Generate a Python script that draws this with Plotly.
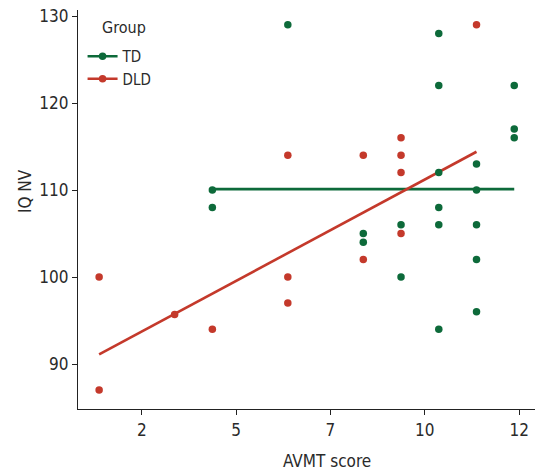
import plotly.graph_objects as go

# ---- data ----
td_x = [4, 4, 6, 8, 8, 9, 9, 10, 10, 10, 10, 10, 10, 11, 11, 11, 11, 11, 12, 12, 12]
td_y = [110, 108, 129, 105, 104, 106, 100, 128, 122, 112, 108, 106, 94, 113, 110, 106, 102, 96, 122, 117, 116]

dld_x = [1, 1, 3, 4, 6, 6, 6, 8, 8, 9, 9, 9, 9, 11]
dld_y = [100, 87, 95.7, 94, 114, 100, 97, 114, 102, 116, 114, 112, 105, 129]

# fitted trend lines (endpoints)
td_fit_x = [4, 12]
td_fit_y = [110.1, 110.1]
dld_fit_x = [1, 11]
dld_fit_y = [91.1, 114.4]

x_tickvals = [2.13, 4.63, 7.13, 9.63, 12.13]
x_ticktext = ["2", "5", "7", "10", "12"]
y_tickvals = [90, 100, 110, 120, 130]

GREEN = "#0d6a3a"
RED = "#c4392b"
FONT = "Liberation Sans Narrow, DejaVu Sans Condensed, Roboto Condensed, Liberation Sans, Arial, sans-serif"
TXT = "#2a2a2a"

fig = go.Figure()

# trend lines
fig.add_trace(go.Scatter(x=td_fit_x, y=td_fit_y, mode="lines",
                         line=dict(color=GREEN, width=2.6), showlegend=False, hoverinfo="skip"))
fig.add_trace(go.Scatter(x=dld_fit_x, y=dld_fit_y, mode="lines",
                         line=dict(color=RED, width=2.6), showlegend=False, hoverinfo="skip"))
# points
fig.add_trace(go.Scatter(x=td_x, y=td_y, mode="markers",
                         marker=dict(color=GREEN, size=7.5), showlegend=False))
fig.add_trace(go.Scatter(x=dld_x, y=dld_y, mode="markers",
                         marker=dict(color=RED, size=7.5), showlegend=False))
# legend entries
fig.add_trace(go.Scatter(x=[None], y=[None], mode="lines+markers", name="TD",
                         line=dict(color=GREEN, width=2.6), marker=dict(color=GREEN, size=7.5)))
fig.add_trace(go.Scatter(x=[None], y=[None], mode="lines+markers", name="DLD",
                         line=dict(color=RED, width=2.6), marker=dict(color=RED, size=7.5)))

axis_common = dict(showgrid=False, zeroline=False, showline=True, linecolor="#222",
                   linewidth=1.3, ticks="outside", ticklen=5, tickwidth=1.2, tickcolor="#222",
                   tickfont=dict(family=FONT, size=17, color=TXT))

fig.update_xaxes(range=[0.44, 12.55], tickvals=x_tickvals, ticktext=x_ticktext, **axis_common)
fig.update_yaxes(range=[84.83, 130.69], tickvals=y_tickvals, **axis_common)

fig.update_layout(
    width=535, height=471,
    margin=dict(l=78, r=0, t=10, b=62),
    paper_bgcolor="white", plot_bgcolor="white",
    font=dict(family=FONT, size=17, color=TXT),
    legend=dict(x=0.01, y=0.925, xanchor="left", yanchor="top",
                font=dict(family=FONT, size=15, color=TXT),
                bgcolor="rgba(0,0,0,0)", itemwidth=30, tracegroupgap=0),
    annotations=[
        dict(text="Group", xref="paper", yref="paper", x=(100 - 78) / 457, y=(409 - 27) / 399,
             xanchor="left", yanchor="middle", showarrow=False,
             font=dict(family=FONT, size=16, color=TXT)),
        dict(text="AVMT score", xref="paper", yref="paper", x=0.545, y=-0.13,
             xanchor="center", yanchor="middle", showarrow=False,
             font=dict(family=FONT, size=17, color=TXT)),
        dict(text="IQ NV", xref="paper", yref="paper", x=-0.117, y=0.545,
             xanchor="center", yanchor="middle", showarrow=False, textangle=-90,
             font=dict(family=FONT, size=17, color=TXT)),
    ],
)

fig.write_html("out.html", config={"displayModeBar": False},
               post_script="document.body.style.margin='0';document.body.style.overflow='hidden';")
